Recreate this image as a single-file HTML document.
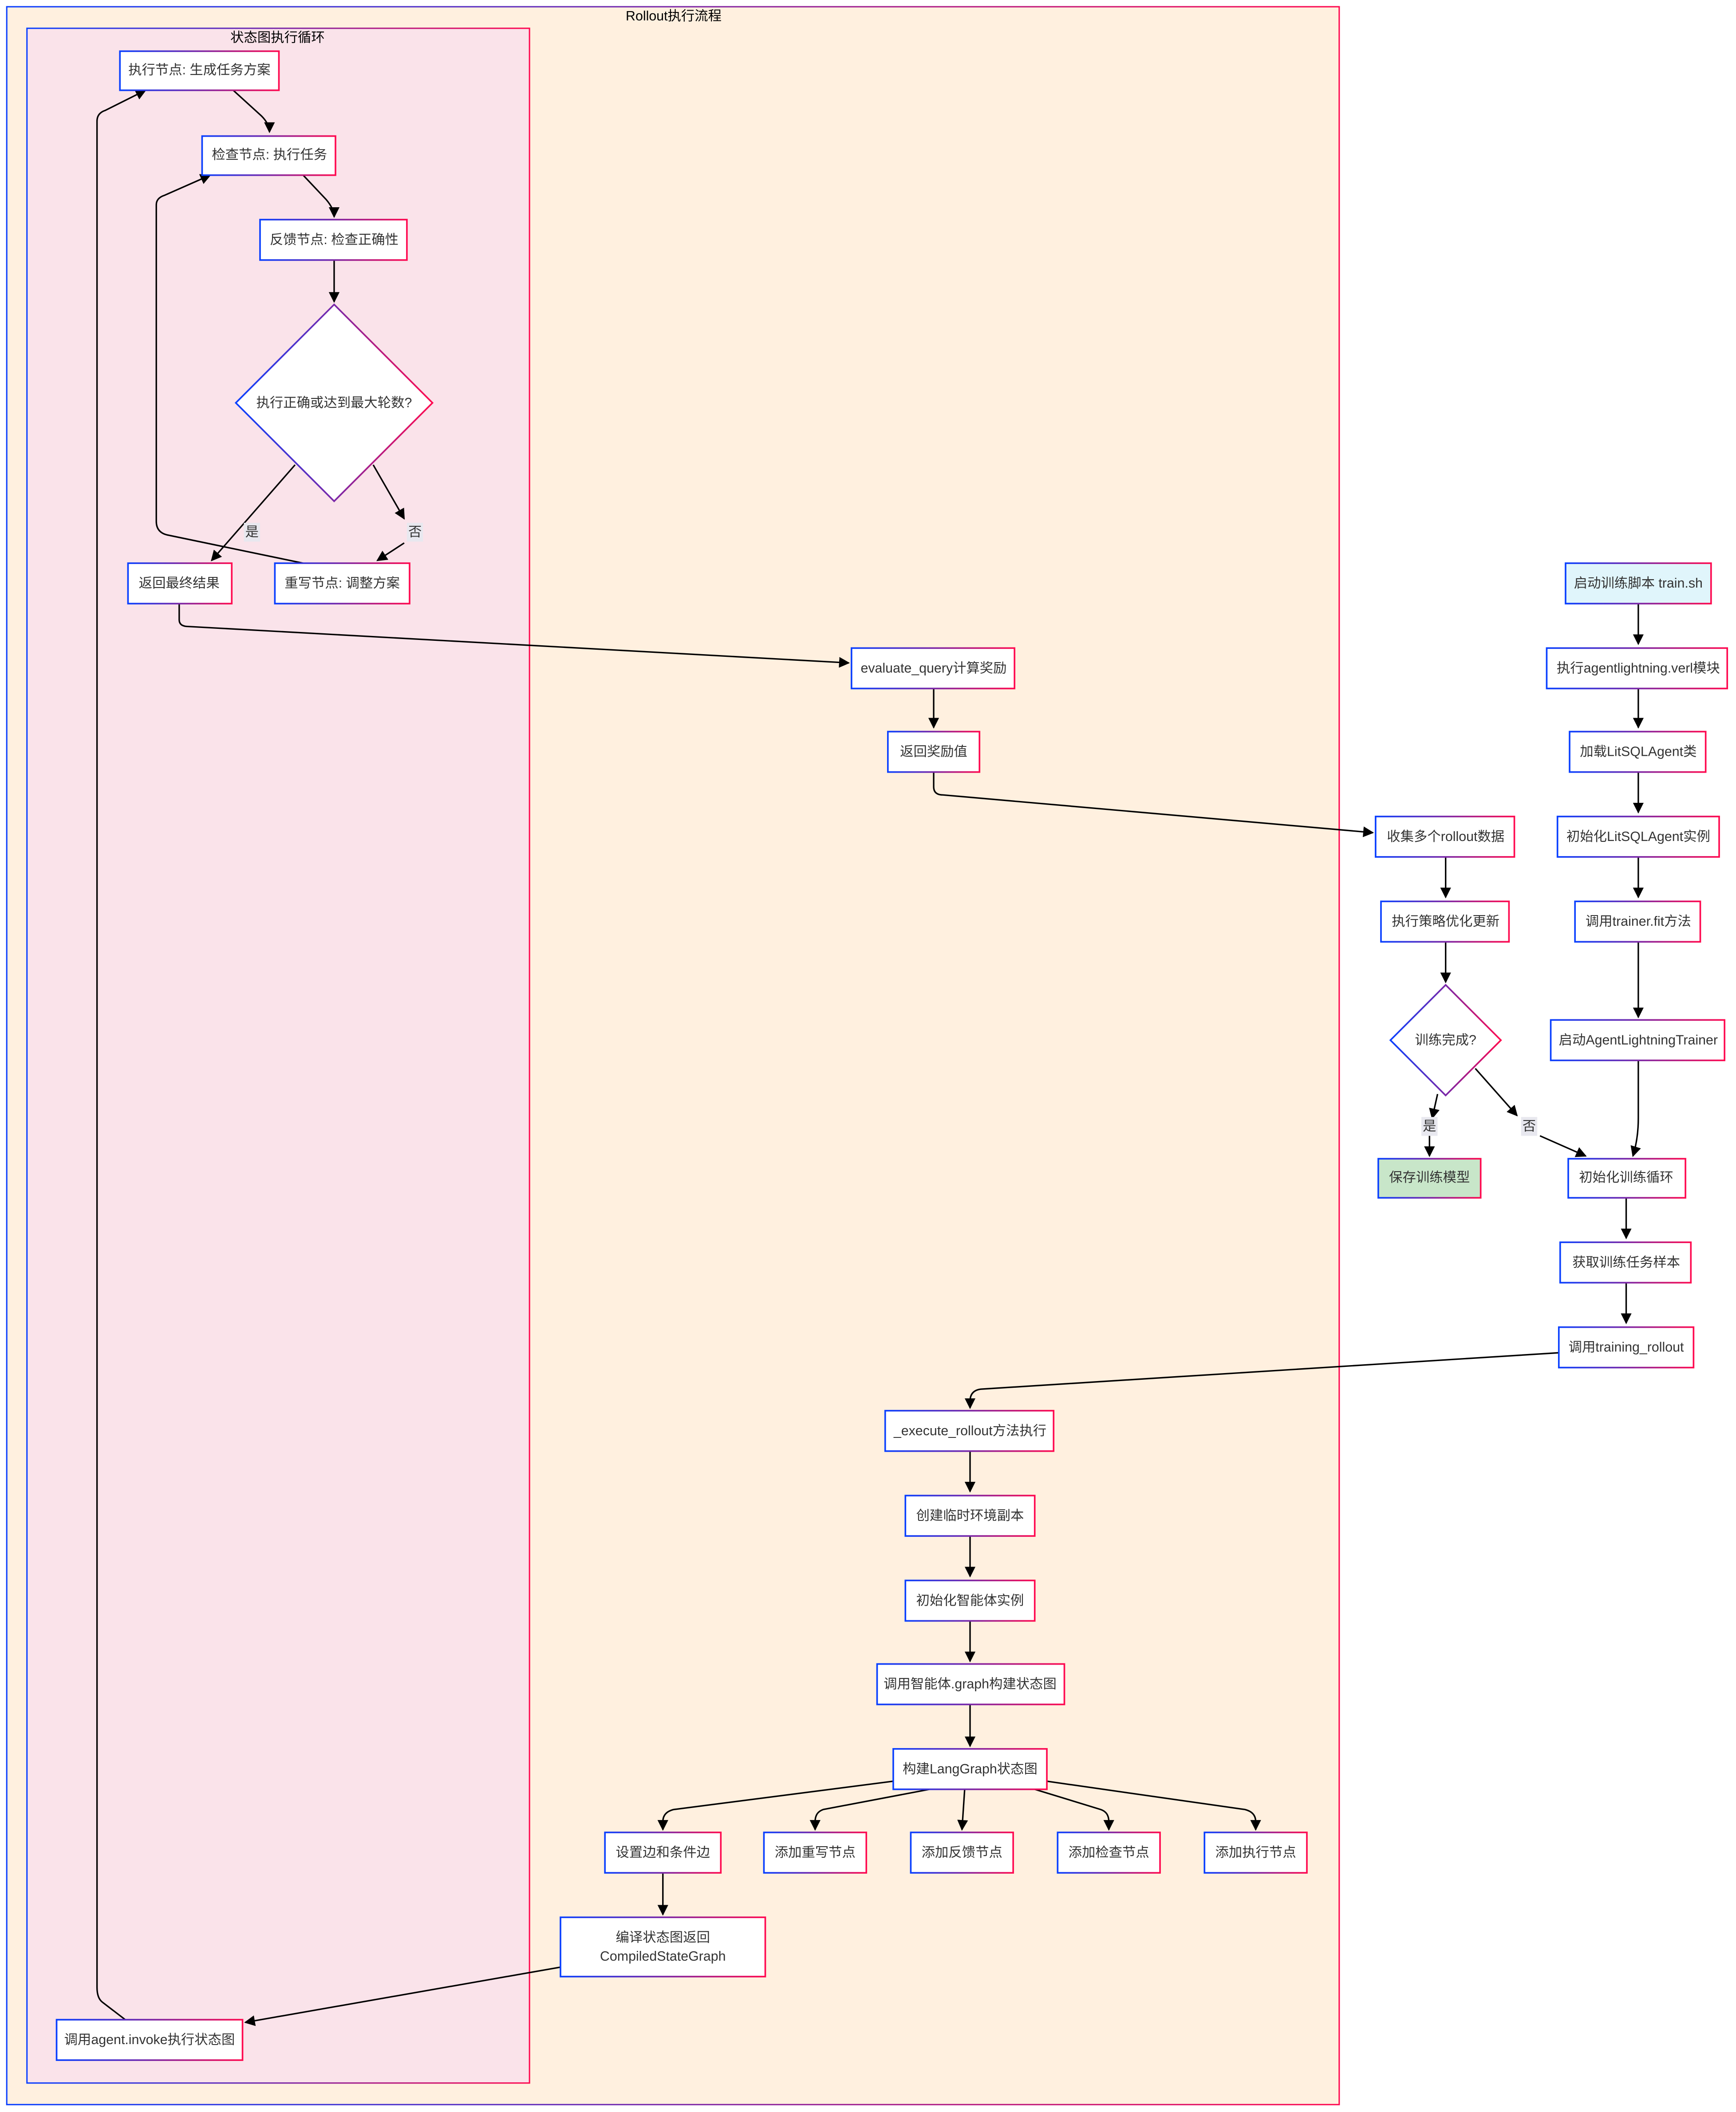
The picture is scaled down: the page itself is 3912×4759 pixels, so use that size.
<!DOCTYPE html>
<html><head><meta charset="utf-8"><style>html,body{margin:0;padding:0;background:#fff}svg{display:block}text{font-family:"Liberation Sans","Noto Sans CJK SC",sans-serif;font-size:10px;fill:#333;text-anchor:middle;dominant-baseline:central}</style></head><body>
<svg width="3912" height="4759" viewBox="0 0 1288.5 1567.5" xmlns="http://www.w3.org/2000/svg">
<defs>
<linearGradient id="g" x1="0" y1="0" x2="1" y2="0"><stop offset="0" stop-color="#0a40ff"/><stop offset="0.5" stop-color="#7a28a8"/><stop offset="1" stop-color="#ff0a50"/></linearGradient>
<marker id="a" viewBox="0 0 10 10" refX="9" refY="5" markerWidth="8" markerHeight="8" markerUnits="userSpaceOnUse" orient="auto"><path d="M0,0L10,5L0,10z" fill="#000"/></marker>
</defs>
<rect x="5" y="5" width="989" height="1557" fill="#fff0df" stroke="url(#g)" stroke-width="1"/>
<text x="500" y="12" style="fill:#000">Rollout执行流程</text>
<rect x="20" y="21" width="373" height="1525" fill="#fae3ea" stroke="url(#g)" stroke-width="1"/>
<text x="206" y="28" style="fill:#000">状态图执行循环</text>
<g fill="none" stroke="#000" stroke-width="1.1" marker-end="url(#a)">
<path d="M172,66L194,86Q200,92 200,98"/>
<path d="M225,130L242,148Q248,155 248,161"/>
<path d="M248,193V224"/>
<path d="M219,345L157,416"/>
<path d="M277,345L300,385"/>
<path d="M300,403L280,416"/>
<path d="M225,418L124,397Q116,395 116,387V152Q116,147 122,145L156,130"/>
<path d="M93,1499L76,1486Q72,1483 72,1475V90Q72,84 78,82L108,67"/>
<path d="M133,448V460Q133,465 140,465L630,492"/>
<path d="M693,511V540"/>
<path d="M693,573V584Q693,590 700,590L1019,618"/>
<path d="M1073,636V666"/>
<path d="M1073,699V729"/>
<path d="M1067,812L1063,830"/>
<path d="M1061,843V858"/>
<path d="M1095,793L1126,828"/>
<path d="M1143,843L1177,858"/>
<path d="M1216,448V478"/><path d="M1216,511V540"/><path d="M1216,573V603"/><path d="M1216,636V666"/><path d="M1216,699V755"/>
<path d="M1216,787V830Q1216,845 1212,858"/>
<path d="M1207,889V919"/><path d="M1207,952V982"/>
<path d="M1157,1004L728,1031Q720,1032 720,1040V1045"/>
<path d="M720,1077V1107"/><path d="M720,1140V1170"/><path d="M720,1203V1233"/><path d="M720,1265V1296"/>
<path d="M663,1322L500,1343Q492,1345 492,1352V1358"/>
<path d="M690,1328L611,1343Q605,1345 605,1352V1358"/>
<path d="M716,1328L714,1358"/>
<path d="M768,1328L817,1343Q823,1345 823,1352V1358"/>
<path d="M777,1322L924,1343Q932,1345 932,1352V1358"/>
<path d="M492,1390V1421"/>
<path d="M416,1460L182,1501"/>
</g>
<g stroke="url(#g)" stroke-width="1.2" fill="#fff">
<rect x="89" y="38" width="118" height="29"/>
<rect x="150" y="101" width="99" height="29"/>
<rect x="193" y="163" width="109" height="30"/>
<path d="M248,226L321,299L248,372L175,299Z"/>
<rect x="95" y="418" width="77" height="30"/>
<rect x="204" y="418" width="100" height="30"/>
<rect x="632" y="481" width="121" height="30"/>
<rect x="659" y="543" width="68" height="30"/>
<rect x="1021" y="606" width="103" height="30"/>
<rect x="1025" y="669" width="95" height="30"/>
<path d="M1073,731L1114,772L1073,813L1032,772Z"/>
<rect x="1023" y="860" width="76" height="29" fill="#c8e6c9"/>
<rect x="1162" y="418" width="108" height="30" fill="#e0f5fb"/>
<rect x="1148" y="481" width="134" height="30"/>
<rect x="1165" y="543" width="101" height="30"/>
<rect x="1156" y="606" width="120" height="30"/>
<rect x="1169" y="669" width="93" height="30"/>
<rect x="1151" y="757" width="129" height="30"/>
<rect x="1164" y="860" width="87" height="29"/>
<rect x="1158" y="922" width="97" height="30"/>
<rect x="1157" y="985" width="100" height="30"/>
<rect x="657" y="1047" width="125" height="30"/>
<rect x="672" y="1110" width="96" height="30"/>
<rect x="672" y="1173" width="96" height="30"/>
<rect x="651" y="1235" width="139" height="30"/>
<rect x="663" y="1298" width="114" height="30"/>
<rect x="449" y="1360" width="86" height="30"/>
<rect x="567" y="1360" width="76" height="30"/>
<rect x="676" y="1360" width="76" height="30"/>
<rect x="785" y="1360" width="76" height="30"/>
<rect x="894" y="1360" width="76" height="30"/>
<rect x="416" y="1423" width="152" height="44"/>
<rect x="42" y="1499" width="138" height="30"/>
</g>
<g fill="#e8e8ef"><rect x="181" y="388" width="12" height="14"/><rect x="302" y="388" width="12" height="14"/><rect x="1055" y="829" width="12" height="14"/><rect x="1129" y="829" width="12" height="14"/></g>
<text x="187" y="395">是</text><text x="308" y="395">否</text><text x="1061" y="836">是</text><text x="1135" y="836">否</text>
<text x="148" y="52">执行节点: 生成任务方案</text>
<text x="200" y="115">检查节点: 执行任务</text>
<text x="248" y="178">反馈节点: 检查正确性</text>
<text x="248" y="299">执行正确或达到最大轮数?</text>
<text x="133" y="433">返回最终结果</text>
<text x="254" y="433">重写节点: 调整方案</text>
<text x="693" y="496">evaluate_query计算奖励</text>
<text x="693" y="558">返回奖励值</text>
<text x="1073" y="621">收集多个rollout数据</text>
<text x="1073" y="684">执行策略优化更新</text>
<text x="1073" y="772">训练完成?</text>
<text x="1061" y="874">保存训练模型</text>
<text x="1216" y="433">启动训练脚本 train.sh</text>
<text x="1216" y="496">执行agentlightning.verl模块</text>
<text x="1216" y="558">加载LitSQLAgent类</text>
<text x="1216" y="621">初始化LitSQLAgent实例</text>
<text x="1216" y="684">调用trainer.fit方法</text>
<text x="1216" y="772">启动AgentLightningTrainer</text>
<text x="1207" y="874">初始化训练循环</text>
<text x="1207" y="937">获取训练任务样本</text>
<text x="1207" y="1000">调用training_rollout</text>
<text x="720" y="1062">_execute_rollout方法执行</text>
<text x="720" y="1125">创建临时环境副本</text>
<text x="720" y="1188">初始化智能体实例</text>
<text x="720" y="1250">调用智能体.graph构建状态图</text>
<text x="720" y="1313">构建LangGraph状态图</text>
<text x="492" y="1375">设置边和条件边</text>
<text x="605" y="1375">添加重写节点</text>
<text x="714" y="1375">添加反馈节点</text>
<text x="823" y="1375">添加检查节点</text>
<text x="932" y="1375">添加执行节点</text>
<text x="492" y="1438">编译状态图返回</text>
<text x="492" y="1452">CompiledStateGraph</text>
<text x="111" y="1514">调用agent.invoke执行状态图</text>
</svg>
</body></html>
